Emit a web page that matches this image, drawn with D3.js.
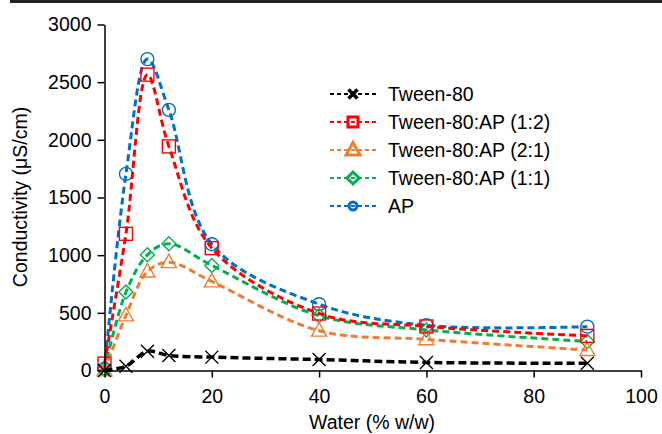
<!DOCTYPE html>
<html>
<head>
<meta charset="utf-8">
<script src="https://cdn.jsdelivr.net/npm/d3@7"></script>
<style>
  body { margin: 0; background: #fff; }
  svg { display: block; font-family: "Liberation Sans", Arial, sans-serif; }
</style>
</head>
<body>
<script>
// water content (% w/w)
var water = [0, 4, 8, 12, 20, 40, 60, 90];

// conductivity, uS/cm
var tween80   = [0, 37, 167, 130, 116, 95, 70, 62];
var tweenAP12 = [60, 1185, 2565, 1943, 1061, 494, 382, 300];
var tweenAP21 = [0, 477, 858, 939, 772, 345, 270, 177];
var tweenAP11 = [10, 680, 1003, 1099, 911, 475, 352, 252];
var apVals    = [15, 1705, 2700, 2260, 1095, 575, 392, 380];

var seriesNames = ["Tween-80", "Tween-80:AP (1:2)", "Tween-80:AP (2:1)", "Tween-80:AP (1:1)", "AP"];
var xTicks = [0, 20, 40, 60, 80, 100];
var yTicks = [0, 500, 1000, 1500, 2000, 2500, 3000];

var series = [
  { name: seriesNames[0], vals: tween80,   color: "#000000", shape: "x" },
  { name: seriesNames[1], vals: tweenAP12, color: "#ff0000", shape: "square" },
  { name: seriesNames[2], vals: tweenAP21, color: "#ed7d31", shape: "triangle" },
  { name: seriesNames[3], vals: tweenAP11, color: "#00b050", shape: "diamond" },
  { name: seriesNames[4], vals: apVals,    color: "#0070c0", shape: "circle" }
];

var W = 662, H = 434;
var FS = "19.5px";
var svg = d3.select("body").append("svg").attr("width", W).attr("height", H);

// dark rule along the top
svg.append("rect").attr("x", 10).attr("y", 0).attr("width", W - 10).attr("height", 3).attr("fill", "#222");

var x = d3.scaleLinear().domain([0, 100]).range([104.5, 641]);
var y = d3.scaleLinear().domain([0, 3000]).range([370.5, 24.5]);

var line = d3.line()
  .x(function (d) { return x(d[0]); })
  .y(function (d) { return y(d[1]); })
  .curve(d3.curveCatmullRom.alpha(0.5));

// draw marker of a given shape centred at 0,0
function marker(g, shape, color, s, sw) {
  if (shape === "circle") {
    g.append("circle").attr("r", s / 2).attr("fill", "none").attr("stroke", color).attr("stroke-width", sw);
  } else if (shape === "square") {
    g.append("rect").attr("x", -s / 2).attr("y", -s / 2).attr("width", s).attr("height", s)
      .attr("fill", "none").attr("stroke", color).attr("stroke-width", sw);
  } else if (shape === "triangle") {
    var h = s * 0.9;
    g.append("path").attr("d", "M0," + (-h * 0.6) + "L" + (s / 2) + "," + (h * 0.4) + "L" + (-s / 2) + "," + (h * 0.4) + "Z")
      .attr("fill", "none").attr("stroke", color).attr("stroke-width", sw).attr("stroke-linejoin", "miter");
  } else if (shape === "diamond") {
    g.append("path").attr("d", "M0," + (-s / 2) + "L" + (s / 2) + ",0L0," + (s / 2) + "L" + (-s / 2) + ",0Z")
      .attr("fill", "none").attr("stroke", color).attr("stroke-width", sw);
  } else {
    var a = s / 2;
    g.append("path").attr("d", "M" + (-a) + "," + (-a) + "L" + a + "," + a + "M" + a + "," + (-a) + "L" + (-a) + "," + a)
      .attr("fill", "none").attr("stroke", color).attr("stroke-width", sw);
  }
}

var sizes = { circle: 13, square: 13, triangle: 15, diamond: 14, x: 13 };

// back to front: AP first, Tween-80 last
series.slice().reverse().forEach(function (s) {
  var pts = water.map(function (w, i) { return [w, s.vals[i]]; });
  svg.append("path").datum(pts)
    .attr("d", line)
    .attr("fill", "none")
    .attr("stroke", s.color)
    .attr("stroke-width", s.shape === "x" ? 3.5 : 3)
    .attr("stroke-dasharray", s.shape === "x" ? "8,4" : "7,4");
  pts.forEach(function (p) {
    var g = svg.append("g").attr("transform", "translate(" + x(p[0]) + "," + y(p[1]) + ")");
    marker(g, s.shape, s.color, sizes[s.shape], 1.4);
  });
});

// axes
var xAxis = svg.append("g").attr("transform", "translate(0,370.5)")
  .call(d3.axisBottom(x).tickValues(xTicks).tickSize(7).tickSizeOuter(0).tickFormat(d3.format("d")));
var yAxis = svg.append("g").attr("transform", "translate(104.5,0)")
  .call(d3.axisLeft(y).tickValues(yTicks).tickSize(7).tickSizeOuter(0).tickFormat(d3.format("d")));

[xAxis, yAxis].forEach(function (a) {
  a.select(".domain").attr("stroke", "#000").attr("stroke-width", 1.5);
  a.selectAll(".tick line").attr("stroke", "#000").attr("stroke-width", 1.5);
  a.selectAll(".tick text").attr("fill", "#000").style("font-size", FS)
    .style("font-family", "'Liberation Sans', Arial, sans-serif");
});
xAxis.selectAll(".tick text").attr("dy", "0.71em").attr("y", 19);
yAxis.selectAll(".tick text").attr("x", -13);

svg.append("text").attr("x", 372).attr("y", 429).attr("text-anchor", "middle")
  .style("font-size", FS).text("Water (% w/w)");
svg.append("text").attr("transform", "translate(27,197) rotate(-90)").attr("text-anchor", "middle")
  .style("font-size", FS).text("Conductivity (μS/cm)");

// legend
var leg = svg.append("g");
var legSizes = { circle: 8, square: 10, triangle: 14, diamond: 12, x: 9 };
series.forEach(function (s, i) {
  var ly = 94 + i * 28;
  leg.append("line").attr("x1", 330).attr("x2", 377).attr("y1", ly).attr("y2", ly)
    .attr("stroke", s.color).attr("stroke-width", 2).attr("stroke-dasharray", "4,3");
  var g = leg.append("g").attr("transform", "translate(353," + ly + ")");
  marker(g, s.shape, s.color, legSizes[s.shape], s.shape === "x" ? 3.5 : 3);
  leg.append("text").attr("x", 388).attr("y", ly).attr("dy", "0.35em")
    .style("font-size", FS).text(s.name);
});
</script>
</body>
</html>
